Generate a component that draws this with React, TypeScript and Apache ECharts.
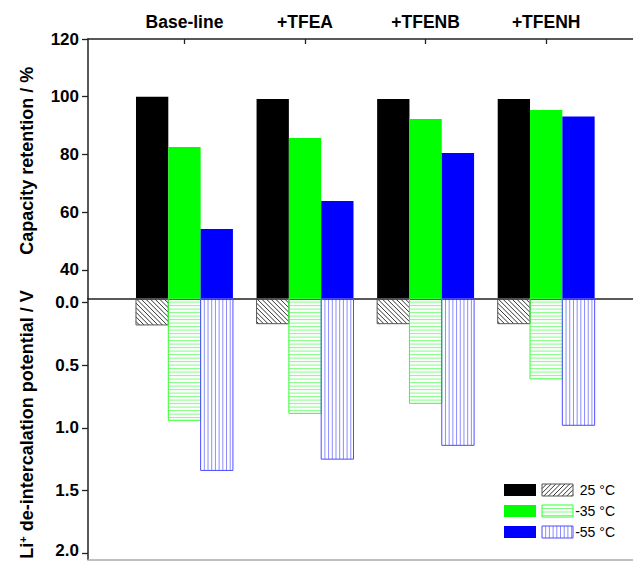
import React, { useEffect, useRef } from 'react';
import * as echarts from 'echarts';

const categories = ['Base-line', '+TFEA', '+TFENB', '+TFENH'];
const temperatures = ['25 °C', '-35 °C', '-55 °C'];
const retention25 = [100, 99.2, 99.2, 99.2];
const retention35 = [82.6, 85.7, 92.3, 95.4];
const retention55 = [54.1, 63.8, 80.5, 93.1];
const potential25 = [0.18, 0.17, 0.17, 0.17];
const potential35 = [0.94, 0.885, 0.805, 0.61];
const potential55 = [1.34, 1.25, 1.14, 0.98];
const retentionTicks = [40, 60, 80, 100, 120];
const retentionMinorTicks = [50, 70, 90, 110];
const potentialTicks = [0, 0.5, 1, 1.5, 2];
const potentialMinorTicks = [0.25, 0.75, 1.25, 1.75];
const categoryPositions = [1, 2, 3, 4];

const RET_MIN = 30;
const RET_MAX = 120;
const POT_MIN = -0.03;
const POT_MAX = 2.05;
const X_MIN = 0.2;
const X_MAX = 4.72;
const BAR_W = 0.268;
const FONT = "'Liberation Sans', Arial, sans-serif";

const solidColors = ['#000000', '#00ff00', '#0000ff'];
const hatchStyles = [
  { kind: 'd', step: 4.6, stroke: '#333333', opacity: 1, border: '#555555' },
  { kind: 'h', step: 3.5, stroke: '#00ff00', opacity: 0.5, border: '#33ff33' },
  { kind: 'v', step: 3.7, stroke: '#0000ff', opacity: 0.45, border: '#4d4dff' },
];

function seg(x1: number, y1: number, x2: number, y2: number, stroke: string, opacity: number) {
  return {
    type: 'line',
    shape: { x1, y1, x2, y2 },
    style: { stroke, lineWidth: 1, opacity },
    silent: true,
  };
}

function hatch(x0: number, y0: number, w: number, h: number, hs: any, dir: number) {
  const x1 = x0 + w;
  const y1 = y0 + h;
  const out: any[] = [];
  const { step, stroke, opacity } = hs;
  if (hs.kind === 'h') {
    for (let y = y0 + step; y < y1 - 0.5; y += step) out.push(seg(x0, y, x1, y, stroke, opacity));
  } else if (hs.kind === 'v') {
    for (let x = x0 + step; x < x1 - 0.5; x += step) out.push(seg(x, y0, x, y1, stroke, opacity));
  } else {
    if (dir === 1) {
      for (let c = y0 - x1 + step; c < y1 - x0; c += step) {
        const xs = Math.max(x0, y0 - c);
        const xe = Math.min(x1, y1 - c);
        if (xe > xs) out.push(seg(xs, xs + c, xe, xe + c, stroke, opacity));
      }
    } else {
      for (let c = x0 + y0 + step; c < x1 + y1; c += step) {
        const xs = Math.max(x0, c - y1);
        const xe = Math.min(x1, c - y0);
        if (xe > xs) out.push(seg(xs, c - xs, xe, c - xe, stroke, opacity));
      }
    }
  }
  out.push({
    type: 'rect',
    shape: { x: x0, y: y0, width: w, height: h },
    style: { fill: 'rgba(0,0,0,0)', stroke: hs.border, lineWidth: 1 },
  });
  return out;
}

function solidSeries(values: number[], idx: number) {
  const offset = (idx - 1) * BAR_W;
  return {
    type: 'custom',
    xAxisIndex: 0,
    yAxisIndex: 0,
    data: values.map((v, i) => [categoryPositions[i], v]),
    renderItem: (_p: any, api: any) => {
      const x = api.value(0) + offset;
      const v = api.value(1);
      const a = api.coord([x - BAR_W / 2, v]);
      const b = api.coord([x + BAR_W / 2, RET_MIN]);
      return {
        type: 'rect',
        shape: { x: a[0], y: a[1], width: b[0] - a[0], height: b[1] - a[1] },
        style: { fill: solidColors[idx] },
      };
    },
  };
}

function hatchSeries(values: number[], idx: number) {
  const offset = (idx - 1) * BAR_W;
  return {
    type: 'custom',
    xAxisIndex: 2,
    yAxisIndex: 2,
    data: values.map((v, i) => [categoryPositions[i], v]),
    renderItem: (_p: any, api: any) => {
      const x = api.value(0) + offset;
      const v = api.value(1);
      const a = api.coord([x - BAR_W / 2, POT_MIN]);
      const b = api.coord([x + BAR_W / 2, v]);
      return {
        type: 'group',
        children: hatch(a[0], a[1], b[0] - a[0], b[1] - a[1], hatchStyles[idx], 1),
      };
    },
  };
}

function legendGraphic() {
  const els: any[] = [];
  temperatures.forEach((t, i) => {
    const y = 484 + i * 21;
    els.push({
      type: 'rect',
      shape: { x: 504, y, width: 32, height: 12 },
      style: { fill: solidColors[i] },
    });
    hatch(542, y, 31, 12, hatchStyles[i], -1).forEach((e) => els.push(e));
    els.push({
      type: 'text',
      x: 615,
      y: y + 6,
      style: {
        text: t,
        fill: '#000',
        font: `14px ${FONT}`,
        align: 'right',
        verticalAlign: 'middle',
      },
    });
  });
  return els;
}

const axisLineStyle = { color: '#222', width: 1.5 };
const tickLabelRich = {
  e: { fontFamily: FONT, fontWeight: 'bold', fontSize: 17, lineHeight: 14, color: '#000', padding: [0, 0, 5, 0] },
};

export default function App() {
  const ref = useRef<HTMLDivElement>(null);
  useEffect(() => {
    if (!ref.current) return;
    const chart = echarts.init(ref.current, null, { renderer: 'svg' });
    const option: any = {
      animation: false,
      backgroundColor: '#fff',
      grid: [
        { left: 88, top: 39, width: 545, height: 259.6, containLabel: false, outerBoundsMode: 'none' },
        { left: 88, top: 298.6, width: 545, height: 260.9, containLabel: false, outerBoundsMode: 'none' },
      ],
      xAxis: [
        {
          gridIndex: 0,
          type: 'value',
          position: 'top',
          min: X_MIN,
          max: X_MAX,
          axisLine: { show: true, lineStyle: axisLineStyle },
          axisTick: { show: true, inside: true, length: 5, customValues: categoryPositions, lineStyle: { color: '#222', width: 1.3 } },
          axisLabel: {
            show: true,
            customValues: categoryPositions,
            formatter: (v: number) => categories[Math.round(v) - 1] || '',
            fontFamily: FONT,
            fontWeight: 'bold',
            fontSize: 17.5,
            color: '#000',
            margin: 8,
          },
          splitLine: { show: false },
        },
        {
          gridIndex: 0,
          type: 'value',
          position: 'bottom',
          min: X_MIN,
          max: X_MAX,
          axisLine: { show: true, onZero: false, lineStyle: axisLineStyle },
          axisTick: { show: false },
          axisLabel: { show: false },
          splitLine: { show: false },
        },
        {
          gridIndex: 1,
          type: 'value',
          position: 'bottom',
          min: X_MIN,
          max: X_MAX,
          axisLine: { show: true, onZero: false, lineStyle: { color: '#aaa', width: 1.5 } },
          axisTick: { show: false },
          axisLabel: { show: false },
          splitLine: { show: false },
        },
      ],
      yAxis: [
        {
          gridIndex: 0,
          type: 'value',
          min: RET_MIN,
          max: RET_MAX,
          axisLine: { show: true, onZero: false, lineStyle: axisLineStyle },
          axisTick: { show: true, length: 6, customValues: retentionTicks, lineStyle: { color: '#222', width: 1.3 } },
          axisLabel: {
            customValues: retentionTicks,
            fontFamily: FONT,
            fontWeight: 'bold',
            fontSize: 17,
            lineHeight: 14,
            color: '#000',
            margin: 9,
          },
          splitLine: { show: false },
          name: 'Capacity retention / %',
          nameLocation: 'middle',
          nameGap: 52,
          nameTextStyle: {
            fontFamily: FONT,
            fontWeight: 'bold',
            fontSize: 18,
            color: '#000',
            padding: [0, 0, 0, 16],
          },
        },
        {
          gridIndex: 0,
          type: 'value',
          min: RET_MIN,
          max: RET_MAX,
          offset: 0,
          axisLine: { show: false },
          axisTick: { show: true, length: 3, customValues: retentionMinorTicks, lineStyle: { color: '#222', width: 1.3 } },
          axisLabel: { show: false },
          splitLine: { show: false },
        },
        {
          gridIndex: 1,
          type: 'value',
          inverse: true,
          min: POT_MIN,
          max: POT_MAX,
          axisLine: { show: true, onZero: false, lineStyle: axisLineStyle },
          axisTick: { show: true, length: 6, customValues: potentialTicks, lineStyle: { color: '#222', width: 1.3 } },
          axisLabel: {
            customValues: potentialTicks,
            formatter: (v: number) => (v >= 2 ? `{e|${v.toFixed(1)}}` : v.toFixed(1)),
            fontFamily: FONT,
            fontWeight: 'bold',
            fontSize: 17,
            lineHeight: 14,
            color: '#000',
            margin: 9,
            rich: tickLabelRich,
          },
          splitLine: { show: false },
          name: '{a|Li}{sup|+}{a| de-intercalation potential / V}',
          nameLocation: 'middle',
          nameGap: 52,
          nameTextStyle: {
            fontFamily: FONT,
            fontWeight: 'bold',
            fontSize: 18,
            color: '#000',
            padding: [0, 0, 0, 9],
            rich: {
              a: { fontFamily: FONT, fontWeight: 'bold', fontSize: 18, color: '#000' },
              sup: { fontFamily: FONT, fontWeight: 'bold', fontSize: 11, color: '#000', verticalAlign: 'top', padding: [0, 0, 8, 0] },
            },
          },
        },
        {
          gridIndex: 1,
          type: 'value',
          inverse: true,
          min: POT_MIN,
          max: POT_MAX,
          offset: 0,
          axisLine: { show: false },
          axisTick: { show: true, length: 3, customValues: potentialMinorTicks, lineStyle: { color: '#222', width: 1.3 } },
          axisLabel: { show: false },
          splitLine: { show: false },
        },
      ],
      series: [
        solidSeries(retention25, 0),
        solidSeries(retention35, 1),
        solidSeries(retention55, 2),
        hatchSeries(potential25, 0),
        hatchSeries(potential35, 1),
        hatchSeries(potential55, 2),
      ],
      graphic: legendGraphic(),
    };
    chart.setOption(option);
    return () => chart.dispose();
  }, []);
  return (
    <div
      ref={ref}
      style={{ position: 'absolute', left: 0, top: 0, width: 633, height: 561 }}
    />
  );
}
